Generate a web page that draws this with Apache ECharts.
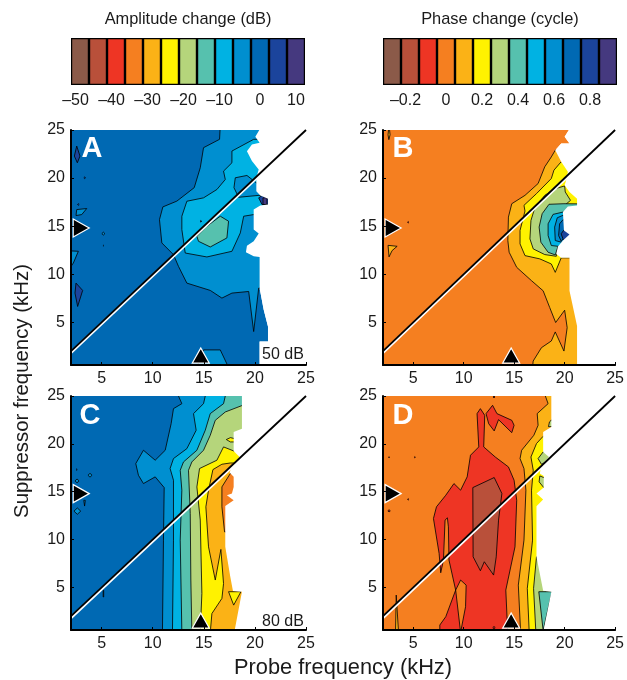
<!DOCTYPE html>
<html><head><meta charset="utf-8">
<style>html,body{margin:0;padding:0;background:#fff}#c{width:627px;height:680px}</style>
<script src="https://cdn.jsdelivr.net/npm/echarts@6/dist/echarts.min.js"></script>
</head><body><div id="c"></div>
<script>
const FONT='"Liberation Sans",Arial,sans-serif';
const LEVEL_COLORS=['#8B5A49','#B9503A','#EE3524','#F57F20','#FBB216','#FFF200','#B5D57B','#56C1AE','#00B2E3','#008FD0','#0069B3','#1B449C','#45397F'];
const AMP_STEPS=['–50','–45','–40','–35','–30','–25','–20','–15','–10','–5','0','5','10'];
const PHASE_STEPS=['–0.3','–0.2','–0.1','0','0.1','0.2','0.3','0.4','0.5','0.6','0.7','0.8','0.9'];
const FREQ_TICKS=[5,10,15,20,25];
const DIAGONAL=[[2,2],[25,25]];
const DIAGONAL_HALO=[[2,1.85],[25,24.85]];
const PROBE_MARK=[[14.7,1.53]];
const SUPP_MARK=[[3,14.8]];

// Panel A: amplitude, 50 dB
const A_edge=[[20.43,25.5],[20.43,25],[20.04,24.3],[20.46,23.68],[19.71,23.5],[19.22,22.8],[19.71,21.77],[20.37,20.9],[20.14,20.03],[20.14,18.64],[20.53,18.18],[21.28,17.84],[21.28,17.25],[20.53,17.14],[19.88,16.72],[19.88,14.64],[20.37,14.22],[19.88,13.42],[19.22,12.97],[19.12,12.27],[19.88,11.86],[20.46,11.79],[20.46,8.55],[20.86,6.29],[21.28,4.55],[21.28,3],[20.46,3],[20.46,0.3]];
const A_lv9=[[16.61,25.5],[16.54,24.03],[14.97,23.16],[14.65,21.07],[14.06,19],[12.36,17.6],[10.99,17],[10.66,15.68],[10.89,13.25],[12.03,12.03],[12.52,10.81],[13.34,9.07],[15.63,8.31],[16.77,7.51],[17.75,8.03],[19.39,8.2],[19.88,4.03],[20.37,8.55],[23,8.55],[23,25.5]];
const A_lv9b=[[14.97,2.12],[16.61,2.12],[17.42,0.3],[14.32,0.3]];
const A_lv8=[[19.88,24.03],[17.75,22.81],[17.75,21.59],[16.93,20.72],[17.1,19.85],[16.28,18.81],[14.97,17.94],[13.34,17.59],[12.85,16.03],[12.85,14.64],[13.18,12.2],[15.3,11.79],[17.75,12.38],[18.57,14.29],[18.9,16.03],[19.88,16.2],[23,16.2],[23,24.03]];
const A_lv9c=[[18.08,20.03],[19.22,20.27],[20.14,19.5],[22,19],[21.5,18.2],[20.4,18.2],[18.4,18],[17.95,19]];
const A_lv7=[[16.61,16.03],[17.42,15.51],[17.26,13.77],[15.63,12.83],[14.48,13.42],[14.32,13.94],[15.3,14.99]];
const A_lv11=[[20.37,17.94],[20.69,18.18],[21.4,17.84],[21.4,17.25],[20.69,17.25]];
const A_lv12=[[20.79,17.94],[21.18,17.94],[21.18,17.25],[20.79,17.25]];
const A_lv11b=[[2.56,23.33],[2.88,22.29],[2.62,21.59],[2.33,22.29]];
const A_lv11c=[[2.49,9.07],[3.14,8.31],[2.65,6.64],[2.39,8.03]];
const A_lv9d=[[2.56,16.72],[3.54,16.83],[3.05,16.2],[2.49,16.1]];
const A_lv9e=[[1.5,12.45],[2.72,12.38],[2.23,11.16],[2,10.8],[1.5,10.8]];
const A_dots=[[11,3.34,20.03,0.08],[11,2.72,17.25,0.08],[9,5.17,14.22,0.15],[11,5.17,12.97,0.04],[11,14.71,15.5,0.08]];

// Panel B: phase, 50 dB
const B_edge=[[20.42,25.5],[20.42,25],[20,24.3],[20.48,23.6],[19.66,23.6],[19.07,22.9],[19.66,21.7],[20.32,20.65],[20.15,19.77],[20,19.25],[20.48,18.55],[21.23,17.85],[21.23,17.15],[20.32,17.05],[19.83,16.46],[19.93,14.55],[20.48,14.13],[19.83,13.5],[19.34,12.88],[19.17,12.1],[19.66,11.7],[20.48,11.7],[20.48,8.27],[21.23,4.62],[21.23,0.3]];
const B_lv4=[[19.07,22.9],[18.68,22.2],[18.03,21.17],[17.37,19.43],[16.07,18.2],[14.76,17.33],[14.43,15.94],[14.37,13.5],[14.5,12.28],[15.25,10.71],[16.72,9.32],[17.87,8.27],[18.52,6.53],[19.11,4.97],[20,6.25],[20.25,4.44],[19.93,2],[19.07,3.99],[18.68,3.05],[17.7,2.35],[16.88,0.96],[16.82,0.3],[23,0.3],[23,24]];
const B_lv5=[[19.66,21.7],[18.94,20.82],[18.68,19.95],[17.21,18.38],[15.97,17.16],[16.07,16.57],[15.58,14.55],[15.58,13.15],[16.07,11.93],[17.54,11.59],[18.68,11.06],[19.07,10.19],[19.66,11.7],[23,11.7],[23,21.7]];
const B_lv6=[[20,19.18],[19.07,18.9],[18.03,18.2],[17.05,16.92],[16.66,15.59],[16.56,13.67],[16.89,12.63],[18.03,12.04],[19.17,11.86],[19.34,12.88],[23,13],[23,16],[20.2,16.5],[20,17.16],[20.58,17.68],[20.06,18.55]];
const B_lv7=[[19.93,17.33],[18.45,17.27],[17.77,16.29],[17.47,14.9],[17.64,13.33],[18.36,12.28],[19.07,12],[19.34,12.88],[23,13],[23,17.3]];
const B_lv8=[[19.83,16.46],[18.85,16.22],[18.36,15.24],[18.36,14.02],[18.68,12.98],[19.5,12.88],[23,13],[23,16.46]];
const B_lv9=[[19.83,16.12],[19.27,15.87],[19.01,14.9],[19.07,13.5],[19.66,13.33],[23,13.33],[23,16.1]];
const B_lv10=[[19.83,15.66],[19.5,15.24],[19.4,14.02],[19.66,13.43],[20,13.85],[23,13.85],[23,15.66]];
const B_lv11=[[19.93,14.6],[19.65,14.2],[19.9,13.5],[23,13.5],[23,14.6]];
const B_lv4b=[[2.5,13],[3.4,12.9],[2.9,12.45],[2.6,11.8]];
const B_lv4c=[[2.6,25.5],[2.7,24.5],[2.58,24],[2.5,24.5]];
const B_dots=[[2,4.5,15.4,0.07]];

// Panel C: amplitude, 80 dB
const C_edge=[[18.73,25.5],[18.73,21.59],[17.92,21.24],[17.92,19.26],[18.5,18.63],[17.75,17.66],[17.52,17],[17.92,16.55],[17.92,15.5],[17.75,14.81],[17.26,14.63],[17.92,14.1],[17.1,13.5],[17.1,9.24],[17.59,6.11],[17.85,4.62],[18.73,4.55],[17.98,0.3]];
const C_lv9=[[12.52,25.5],[12.52,25],[12.85,24.2],[12.03,23.68],[11.8,22.11],[11.22,19.33],[10.24,18.29],[9.09,19.33],[8.34,17.94],[8.6,16.72],[9.09,15.85],[10.24,16.55],[11.12,15.43],[11.05,9.94],[10.95,0.3],[23,0.3],[23,25.5]];
const C_lv8=[[15.14,25.5],[15.14,25],[14.97,24.2],[13.99,23.16],[14.25,21.42],[13.34,19.5],[12.03,18.46],[11.7,17.42],[12.03,16.2],[12.03,9.94],[11.93,0.3],[23,0.3],[23,25.5]];
const C_lv7=[[17.1,25.5],[17.1,25],[16.93,24.2],[15.63,23.16],[15.14,21.42],[14.32,19.33],[13.01,18.11],[12.69,17.24],[12.85,15.16],[12.69,9.94],[12.85,0.3],[23,0.3],[23,25.5]];
const C_lv6=[[23,24],[18.73,24],[17.1,23.33],[16.12,22.46],[15.63,20.9],[14.97,19.33],[13.83,18.11],[13.5,17.24],[13.67,12.72],[13.73,5.77],[13.83,0.3],[23,0.3]];
const C_lv5=[[23,19.26],[17.92,19.26],[16.93,19.68],[16.28,18.29],[14.58,17.42],[14.32,15.5],[14.65,12.04],[14.81,4.37],[14.65,0.3],[23,0.3]];
const C_lv4=[[23,18],[17.59,18],[16.77,17.87],[15.89,17.31],[15.46,15.16],[15.2,13.42],[15.46,9.24],[16.12,5.77],[16.67,8.97],[16.93,5.4],[16.77,3.85],[15.79,2.27],[15.63,0.3],[23,0.3]];
const C_lv3=[[17.59,16.9],[16.77,15.5],[16.77,13.42],[17.03,10.8],[23,10.8],[23,16.9]];
const C_lv5b=[[17.42,4.55],[18.63,4.55],[17.92,3.15]];
const C_lv5c=[[17.2,20.45],[17.6,20.65],[18,20.55],[18,20.2],[17.6,20.2]];
const C_lv9b=[[3.25,14.1],[3.4,14.1],[3.33,13.5]];
const C_lv9c=[[5.15,4.7],[5.2,4.7],[5.2,4],[5.15,4]];
const C_dots=[[11,2.55,17.31,0.06],[9,2.59,16.13,0.2],[9,3.86,16.72,0.2],[9,2.62,12.97,0.33]];

// Panel D: phase, 80 dB
const D_edge=[[18.68,25.5],[18.68,21.77],[17.87,21.24],[17.87,19.16],[18.45,18.63],[17.7,17.77],[17.54,16.9],[17.93,16.65],[17.93,15.43],[17.21,14.81],[17.87,14.18],[17.21,13.49],[17.21,8.2],[17.87,4.65],[18.68,4.55],[17.87,0.3]];
const D_lv4=[[18.09,25.5],[18.09,25],[18.36,24.2],[17.28,23.16],[17.37,21.94],[16.95,20.9],[15.74,19.33],[15.58,18.46],[15.97,17.42],[16.16,15.16],[15.97,9.94],[15.41,5.24],[15.64,0.3],[23,0.3],[23,25.5]];
const D_lv5=[[23,20.79],[17.87,20.79],[17.21,20.03],[16.66,18.63],[16.89,17.24],[16.72,15.16],[16.82,9.94],[16.3,4.9],[16.49,0.3],[23,0.3]];
const D_lv6a=[[17.87,19.16],[17.37,18.46],[17.7,17.87],[19,18.5],[18.3,19.4]];
const D_lv6b=[[17.54,16.65],[17.47,16.03],[17.93,15.43],[19,16]];
const D_lv6c=[[17.21,8.2],[16.92,4.9],[17.15,0.3],[23,0.3],[23,8.2]];
const D_lv6d=[[18.5,22.3],[18.7,22.5],[19,22],[18.7,21.8],[18.4,21.8]];
const D_lv7=[[17.44,4.55],[18.75,4.55],[17.87,0.5]];
const D_lv2=[[7.63,0.3],[7.63,1.07],[8.22,1.94],[9.2,4.72],[8.54,7.85],[8.48,11.33],[8.38,12.27],[8.15,12.03],[7.99,7.85],[7.72,6.53],[7.56,8.55],[7,12.2],[7.3,13.42],[8.22,14.63],[9.03,15.85],[9.69,15.16],[10.34,16.55],[10.67,18.81],[11.49,19.68],[11.32,23.16],[11.65,23.68],[12.08,22.98],[11.98,19.68],[13.12,18.63],[14.43,17.59],[14.99,16.2],[15.25,14.11],[15.08,9.24],[14.17,4.72],[14.36,0.3],[9.69,0.3],[10.18,2.98],[10.24,5.24],[9.69,5.77],[9.2,4.72],[9.69,0.3]];
const D_lv2b=[[12.21,23.16],[12.86,24.03],[13.29,23.16],[14.76,22.46],[14.99,21.94],[14.76,21.17],[13.45,22.53],[13.02,21.35],[12.47,22.11]];
const D_lv1=[[10.9,15.43],[13.02,16.48],[13.78,14.81],[13.45,12.03],[13.22,8.2],[12.96,6.29],[12.04,7.68],[11.65,6.74],[10.93,8.2]];
const D_lv4b=[[3.24,0.3],[3.31,4.2],[3.54,0.3]];
const D_dots=[[2,2.6,18.6,0.06],[2,5.15,18.6,0.06],[2,4.5,14.2,0.07],[2,2.6,13,0.12],[2,13,0.8,0.12],[2,13,24.9,0.1]];

const PANELS=[
 {edge:A_edge,base:10,layers:[[9,A_lv9],[9,A_lv9b],[8,A_lv8],[9,A_lv9c],[7,A_lv7],[11,A_lv11],[12,A_lv12],[11,A_lv11b],[11,A_lv11c],[9,A_lv9d],[9,A_lv9e]],dots:A_dots},
 {edge:B_edge,base:3,layers:[[4,B_lv4],[5,B_lv5],[6,B_lv6],[7,B_lv7],[8,B_lv8],[9,B_lv9],[10,B_lv10],[11,B_lv11],[4,B_lv4b],[4,B_lv4c]],dots:B_dots},
 {edge:C_edge,base:10,layers:[[9,C_lv9],[8,C_lv8],[7,C_lv7],[6,C_lv6],[5,C_lv5],[4,C_lv4],[3,C_lv3],[5,C_lv5b],[5,C_lv5c],[9,C_lv9b],[9,C_lv9c]],dots:C_dots},
 {edge:D_edge,base:3,layers:[[4,D_lv4],[5,D_lv5],[6,D_lv6a],[6,D_lv6b],[6,D_lv6c],[6,D_lv6d],[7,D_lv7],[2,D_lv2],[2,D_lv2b],[1,D_lv1],[4,D_lv4b]],dots:D_dots}
];
const GRIDS=[{left:71,top:130,width:235,height:235},{left:383,top:130,width:234,height:235},{left:71,top:396,width:235,height:234},{left:383,top:396,width:234,height:234},{left:71,top:38,width:234,height:47},{left:383,top:38,width:234,height:47}];

const xAxis=[],yAxis=[],series=[];
PANELS.forEach((p,i)=>{
  const common={type:'value',z:6,axisLine:{show:true,onZero:false,lineStyle:{color:'#000',width:2}},
    axisTick:{show:true,inside:true,length:3,customValues:FREQ_TICKS,lineStyle:{color:'#000',width:1}},
    axisLabel:{show:true,customValues:FREQ_TICKS,color:'#1a1a1a',fontFamily:FONT,fontSize:16,margin:6},splitLine:{show:false}};
  xAxis.push(Object.assign({gridIndex:i,min:2,max:25},common));
  yAxis.push(Object.assign({gridIndex:i,min:0.55,max:25},common));
  const shapes=[{level:p.base,pts:p.edge.concat([[1.5,0.3],[1.5,25.5]]),stroke:false}];
  p.layers.forEach(l=>shapes.push({level:l[0],pts:l[1],stroke:true}));
  p.dots.forEach(d=>shapes.push({level:d[0],pts:[[d[1]-d[3],d[2]],[d[1],d[2]+d[3]],[d[1]+d[3],d[2]],[d[1],d[2]-d[3]]],stroke:true}));
  shapes.push({level:-1,pts:p.edge.concat([[26,0.3],[26,25.5]]),stroke:false});
  series.push({type:'custom',xAxisIndex:i,yAxisIndex:i,coordinateSystem:'cartesian2d',clip:true,z:2,silent:true,
    data:shapes.map((s,k)=>[k]),
    renderItem:(params,api)=>{
      const s=shapes[params.dataIndex];
      return {type:'polygon',shape:{points:s.pts.map(q=>api.coord(q))},
        style:{fill:s.level<0?'#fff':LEVEL_COLORS[s.level],stroke:s.stroke?'#000':null,lineWidth:s.stroke?0.8:0,lineJoin:'round'}};
    }});
  series.push({type:'line',xAxisIndex:i,yAxisIndex:i,data:DIAGONAL_HALO,symbol:'none',silent:true,z:3,clip:true,lineStyle:{color:'#fff',width:3}});
  series.push({type:'line',xAxisIndex:i,yAxisIndex:i,data:DIAGONAL,symbol:'none',silent:true,z:3,clip:true,lineStyle:{color:'#000',width:1.8}});
  series.push({type:'scatter',xAxisIndex:i,yAxisIndex:i,data:PROBE_MARK,symbol:'triangle',symbolSize:[17,15],silent:true,z:4,itemStyle:{color:'#000',borderColor:'#fff',borderWidth:1.2,opacity:1}});
  series.push({type:'scatter',xAxisIndex:i,yAxisIndex:i,data:SUPP_MARK,symbol:'triangle',symbolSize:[18,16],symbolRotate:-90,silent:true,z:4,itemStyle:{color:'#000',borderColor:'#fff',borderWidth:1.2,opacity:1}});
});
[[AMP_STEPS,[0,2,4,6,8,10,12]],[PHASE_STEPS,[1,3,5,7,9,11]]].forEach((c,j)=>{
  const gi=4+j;
  xAxis.push({type:'category',gridIndex:gi,data:c[0],boundaryGap:true,axisLine:{show:false},axisTick:{show:false},
    axisLabel:{interval:0,margin:8,color:'#1a1a1a',fontFamily:FONT,fontSize:16,hideOverlap:false,
      formatter:(v,idx)=>c[1].includes(idx)?(v[0]==='–'?'{n|'+v+'}':v):'',
      rich:{n:{fontFamily:FONT,fontSize:16,color:'#1a1a1a',padding:[0,9,0,0]}}}});
  yAxis.push({type:'value',gridIndex:gi,min:0,max:1,show:false});
  series.push({type:'bar',xAxisIndex:4+j,yAxisIndex:4+j,barWidth:'100%',silent:true,
    data:LEVEL_COLORS.map(col=>({value:1,itemStyle:{color:col,borderColor:'#000',borderWidth:1.2}}))});
});
const text=(t,x,y,size,extra)=>({type:'text',x,y,z:20,silent:true,style:Object.assign({text:t,fontFamily:FONT,fontSize:size,fill:'#1a1a1a',align:'center',verticalAlign:'middle'},extra||{})});
const bold={fill:'#fff',fontWeight:'bold'};
const graphic=[
 text('Amplitude change (dB)',188,19,16.4),text('Phase change (cycle)',500,19,16.4),
 text('Probe frequency (kHz)',343,668,21.8),
 Object.assign(text('Suppressor frequency (kHz)',22,391,20.4),{rotation:Math.PI/2}),
 text('A',92,149,29,bold),text('B',403,149,29,bold),text('C',90,416,29,bold),text('D',403,416,29,bold),
 text('50 dB',283,355,16),text('80 dB',283,622,16)
];
const chart=echarts.init(document.getElementById('c'),null,{renderer:'canvas'});
chart.setOption({animation:false,backgroundColor:'#fff',grid:GRIDS,xAxis,yAxis,series,graphic});
</script></body></html>
